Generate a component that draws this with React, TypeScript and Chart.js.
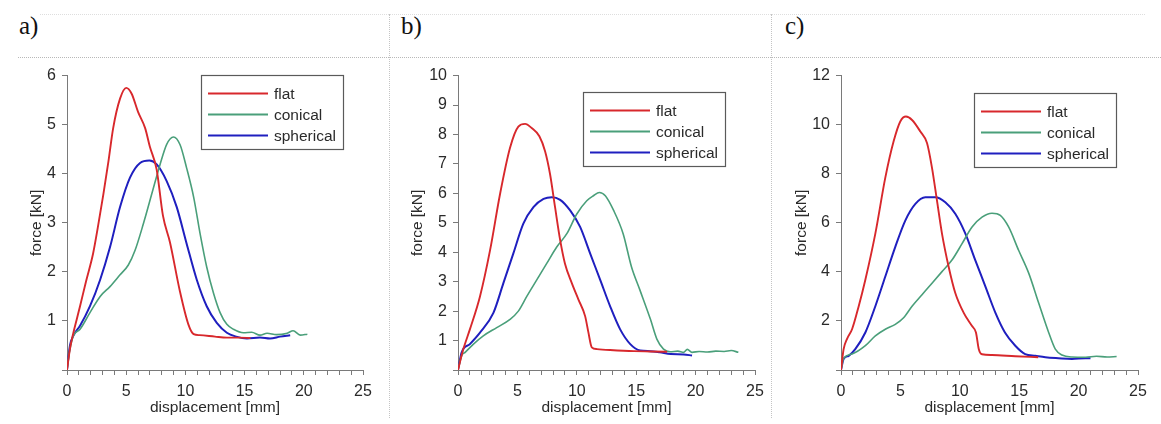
import React, { useEffect, useRef } from "react";
import { Chart, registerables } from "chart.js";

Chart.register(...registerables);

// ---------- data ----------
const panelLabels = ["a)", "b)", "c)"];
const seriesNames = ["flat", "conical", "spherical"];
const xTickLabels = [0, 5, 10, 15, 20, 25];

// panel a
const aFlatX = [0, 0.25, 0.54, 0.82, 1.1, 1.6, 2.2, 2.6, 3.07, 3.5, 3.9, 4.48, 5.0, 5.46, 6.0, 6.6, 7.0, 7.57, 8.1, 8.7, 9.54, 10.25, 10.7, 11.2, 12.5, 13.5, 14.5, 15.5];
const aFlatY = [0, 0.43, 0.76, 1.03, 1.3, 1.8, 2.37, 2.9, 3.58, 4.25, 4.93, 5.53, 5.75, 5.63, 5.26, 4.93, 4.55, 4.09, 3.15, 2.6, 1.6, 0.93, 0.73, 0.71, 0.68, 0.66, 0.66, 0.65];
const aConX = [0, 0.2, 0.54, 1.1, 1.94, 2.8, 3.63, 4.48, 5.18, 5.75, 6.45, 7.15, 7.86, 8.42, 8.99, 9.55, 10.1, 10.7, 11.24, 11.8, 12.37, 12.93, 13.5, 14.06, 14.9, 15.6, 16.3, 16.9, 17.7, 18.6, 19.1, 19.7, 20.3];
const aConY = [0, 0.36, 0.7, 0.83, 1.17, 1.5, 1.7, 1.94, 2.14, 2.44, 2.98, 3.58, 4.19, 4.6, 4.75, 4.59, 4.12, 3.52, 2.78, 2.1, 1.57, 1.17, 0.93, 0.83, 0.76, 0.77, 0.71, 0.75, 0.72, 0.75, 0.8, 0.71, 0.73];
const aSphX = [0, 0.25, 0.54, 1.1, 1.94, 2.8, 3.63, 4.48, 5.32, 6.17, 6.96, 7.58, 8.42, 9.27, 10.1, 10.96, 11.8, 12.65, 13.5, 14.3, 15.2, 16.3, 17.15, 18.0, 18.85];
const aSphY = [0, 0.5, 0.7, 0.9, 1.3, 1.84, 2.5, 3.32, 3.92, 4.22, 4.27, 4.19, 3.85, 3.32, 2.58, 1.84, 1.3, 0.96, 0.76, 0.68, 0.64, 0.66, 0.64, 0.68, 0.71];

// panel b
const bFlatX = [0, 0.45, 1.0, 1.85, 2.7, 3.54, 4.38, 5.08, 5.65, 6.2, 6.85, 7.33, 7.75, 8.17, 8.6, 9.0, 9.58, 10.14, 10.7, 10.98, 11.26, 11.7, 12.8, 14.8, 16.2, 17.6];
const bFlatY = [0, 0.71, 1.38, 2.5, 4.07, 5.98, 7.55, 8.27, 8.36, 8.22, 7.94, 7.43, 6.65, 5.53, 4.41, 3.62, 2.95, 2.39, 1.83, 1.27, 0.77, 0.71, 0.68, 0.64, 0.63, 0.62];
const bConX = [0, 0.31, 0.6, 1.3, 2.13, 3.26, 4.38, 5.08, 5.79, 6.63, 7.47, 8.31, 9.16, 10.0, 10.84, 11.4, 11.9, 12.4, 13.1, 13.9, 14.6, 15.3, 16.2, 16.74, 17.3, 17.86, 18.5, 19.0, 19.3, 19.7, 20.3, 21.0, 21.7, 22.4, 23.0, 23.6];
const bConY = [0, 0.49, 0.6, 0.88, 1.16, 1.44, 1.72, 2.0, 2.5, 3.06, 3.62, 4.18, 4.63, 5.3, 5.75, 5.92, 6.03, 5.92, 5.42, 4.63, 3.51, 2.73, 1.72, 1.05, 0.71, 0.62, 0.64, 0.6, 0.7, 0.6, 0.63, 0.61, 0.64, 0.63, 0.66, 0.6];
const bSphX = [0, 0.31, 1.0, 1.85, 2.98, 3.82, 4.66, 5.5, 6.35, 7.2, 7.9, 8.6, 9.44, 10.28, 11.12, 11.97, 12.8, 13.65, 14.5, 15.34, 16.2, 17.0, 17.9, 19.0, 19.7];
const bSphY = [0, 0.6, 0.88, 1.27, 1.94, 2.95, 3.96, 4.97, 5.53, 5.81, 5.87, 5.78, 5.42, 4.86, 3.96, 3.06, 2.17, 1.38, 0.88, 0.66, 0.64, 0.6, 0.54, 0.53, 0.49];

// panel c
const cFlatX = [0, 0.22, 0.5, 0.93, 1.49, 2.05, 2.89, 3.73, 4.43, 4.99, 5.47, 5.98, 6.68, 7.24, 7.66, 8.08, 8.5, 9.06, 9.62, 10.33, 11.03, 11.36, 11.6, 11.87, 12.7, 14.67, 16.6];
const cFlatY = [0, 0.85, 1.26, 1.66, 2.6, 3.68, 5.56, 7.84, 9.32, 10.13, 10.33, 10.19, 9.72, 9.25, 8.24, 6.9, 5.56, 4.21, 3.14, 2.33, 1.79, 1.53, 0.85, 0.64, 0.61, 0.56, 0.52];
const cConX = [0, 0.22, 0.93, 2.05, 2.89, 3.73, 4.57, 5.27, 5.98, 6.82, 7.66, 8.5, 9.34, 10.19, 11.03, 11.87, 12.71, 13.41, 14.11, 14.95, 15.8, 16.64, 17.48, 18.04, 18.6, 19.44, 20.6, 21.5, 22.4, 23.2];
const cConY = [0, 0.48, 0.65, 0.99, 1.39, 1.66, 1.86, 2.13, 2.6, 3.07, 3.54, 4.01, 4.48, 5.15, 5.83, 6.23, 6.39, 6.3, 5.83, 4.88, 3.95, 2.73, 1.53, 0.85, 0.61, 0.53, 0.52, 0.56, 0.53, 0.55];
const cSphX = [0, 0.22, 0.65, 1.2, 2.05, 2.89, 3.73, 4.57, 5.42, 6.26, 7.1, 7.94, 8.78, 9.62, 10.47, 11.3, 12.15, 13.0, 13.8, 14.67, 15.5, 16.36, 17.2, 18.3, 19.44, 20.6, 21.0];
const cSphY = [0, 0.45, 0.58, 0.85, 1.53, 2.6, 3.81, 5.02, 6.1, 6.77, 7.04, 7.04, 6.84, 6.37, 5.56, 4.48, 3.41, 2.33, 1.53, 0.99, 0.65, 0.58, 0.52, 0.48, 0.45, 0.48, 0.48];

const yMaxes = [6, 10, 12];
const yStepSizes = [1, 1, 2];

// ---------- styles ----------
const seriesColors = ["#d8282c", "#4a9f7a", "#1f1fbf"];
const seriesWidths = [1.9, 1.6, 2];
const FONT = "'Liberation Sans', Arial, sans-serif";
const TEXT = "#2a2a2a";
const AXIS = "#7a7a7a";

const zip = (xs: number[], ys: number[]) => xs.map((x, i) => ({ x, y: ys[i] }));

const panelSeries = [
  [zip(aFlatX, aFlatY), zip(aConX, aConY), zip(aSphX, aSphY)],
  [zip(bFlatX, bFlatY), zip(bConX, bConY), zip(bSphX, bSphY)],
  [zip(cFlatX, cFlatY), zip(cConX, cConY), zip(cSphX, cSphY)],
];

// layout per panel
const panelLayout = [
  { left: 0, width: 389, yWidth: 67, padRight: 26, titlePad: 27.5, legDx: 134, legDy: -1, labelX: 19 },
  { left: 390, width: 381, yWidth: 68, padRight: 16, titlePad: 18.5, legDx: 125, legDy: 16, labelX: 401 },
  { left: 772, width: 389, yWidth: 69, padRight: 23, titlePad: 20.5, legDx: 133, legDy: 17, labelX: 785 },
];
const CANVAS_TOP = 60;
const CANVAS_H = 364;

const boxLegend = {
  id: "boxLegend",
  afterDraw(chart: any, _args: any, opts: any) {
    const { ctx, chartArea } = chart;
    const x = Math.round(chartArea.left + opts.dx);
    const y = Math.round(chartArea.top + opts.dy);
    const w = 142;
    const h = 74;
    ctx.save();
    ctx.fillStyle = "#ffffff";
    ctx.fillRect(x, y, w, h);
    ctx.strokeStyle = "#5a5a5a";
    ctx.lineWidth = 1.2;
    ctx.strokeRect(x + 0.5, y + 0.5, w, h);
    chart.data.datasets.forEach((ds: any, i: number) => {
      const ly = y + 18.5 + i * 21;
      ctx.strokeStyle = ds.borderColor;
      ctx.lineWidth = 2;
      ctx.beginPath();
      ctx.moveTo(x + 7, ly);
      ctx.lineTo(x + 67, ly);
      ctx.stroke();
      ctx.fillStyle = TEXT;
      ctx.font = `15.5px ${FONT}`;
      ctx.textBaseline = "middle";
      ctx.textAlign = "left";
      ctx.fillText(ds.label, x + 73, ly + 1);
    });
    ctx.restore();
  },
};

function Panel({ idx }: { idx: number }) {
  const ref = useRef<HTMLCanvasElement | null>(null);
  const L = panelLayout[idx];
  useEffect(() => {
    if (!ref.current) return;
    const chart = new Chart(ref.current, {
      type: "line",
      data: {
        datasets: seriesNames.map((name, i) => ({
          label: name,
          data: panelSeries[idx][i],
          borderColor: seriesColors[i],
          backgroundColor: seriesColors[i],
          borderWidth: seriesWidths[i],
          pointRadius: 0,
          fill: false,
          cubicInterpolationMode: "monotone" as const,
        })),
      },
      options: {
        animation: false,
        responsive: false,
        maintainAspectRatio: false,
        events: [],
        layout: { padding: { left: 0, right: L.padRight, top: 12, bottom: 0 } },
        plugins: {
          legend: { display: false },
          tooltip: { enabled: false },
          boxLegend: { dx: L.legDx, dy: L.legDy },
        } as any,
        scales: {
          x: {
            type: "linear",
            min: 0,
            max: 25,
            ticks: {
              stepSize: 1,
              autoSkip: false,
              maxRotation: 0,
              padding: 7,
              color: TEXT,
              font: { family: FONT, size: 16 },
              callback: (v: any) => (xTickLabels.includes(Number(v)) ? String(v) : ""),
            },
            grid: { drawOnChartArea: false, drawTicks: true, tickLength: 5, color: AXIS },
            border: { color: AXIS, width: 1 },
            title: {
              display: true,
              text: "displacement [mm]",
              color: TEXT,
              font: { family: FONT, size: 15.5 },
              padding: { top: 0, bottom: 7 },
            },
            afterFit: (s: any) => {
              s.height = 54;
            },
          },
          y: {
            type: "linear",
            min: 0,
            max: yMaxes[idx],
            ticks: {
              stepSize: yStepSizes[idx],
              padding: 6,
              color: TEXT,
              font: { family: FONT, size: 16 },
              callback: (v: any) => (Number(v) === 0 ? "" : String(v)),
            },
            grid: { drawOnChartArea: false, drawTicks: true, tickLength: 5, color: AXIS },
            border: { color: AXIS, width: 1 },
            title: {
              display: true,
              text: "force [kN]",
              color: TEXT,
              font: { family: FONT, size: 15.5 },
              padding: { top: L.titlePad, bottom: 0 },
            },
            afterFit: (s: any) => {
              s.width = L.yWidth;
            },
          },
        },
      } as any,
      plugins: [boxLegend],
    });
    return () => chart.destroy();
  }, [idx]);
  return (
    <canvas
      ref={ref}
      width={L.width}
      height={CANVAS_H}
      style={{ position: "absolute", left: L.left, top: CANVAS_TOP, width: L.width, height: CANVAS_H, display: "block" }}
    />
  );
}

export default function App() {
  return (
    <div style={{ position: "fixed", left: 0, top: 0, width: 1161, height: 424, background: "#fff", overflow: "hidden" }}>
      {/* faint top dotted line */}
      <div style={{ position: "absolute", left: 40, top: 14, width: 1105, height: 0, borderTop: "1px dotted #dedede" }} />
      {/* dotted line under panel labels */}
      <div style={{ position: "absolute", left: 18, top: 57, width: 1143, height: 0, borderTop: "1px dotted #b8b8b8" }} />
      {/* vertical separators */}
      <div style={{ position: "absolute", left: 389, top: 14, width: 0, height: 404, borderLeft: "1px dotted #c4c4c4" }} />
      <div style={{ position: "absolute", left: 771, top: 14, width: 0, height: 404, borderLeft: "1px dotted #c4c4c4" }} />
      {panelLabels.map((t, i) => (
        <div
          key={t}
          style={{
            position: "absolute",
            left: panelLayout[i].labelX,
            top: 13,
            fontFamily: "'Liberation Serif', 'Times New Roman', serif",
            fontSize: 25,
            lineHeight: "25px",
            color: "#111",
          }}
        >
          {t}
        </div>
      ))}
      {[0, 1, 2].map((i) => (
        <Panel key={i} idx={i} />
      ))}
    </div>
  );
}
